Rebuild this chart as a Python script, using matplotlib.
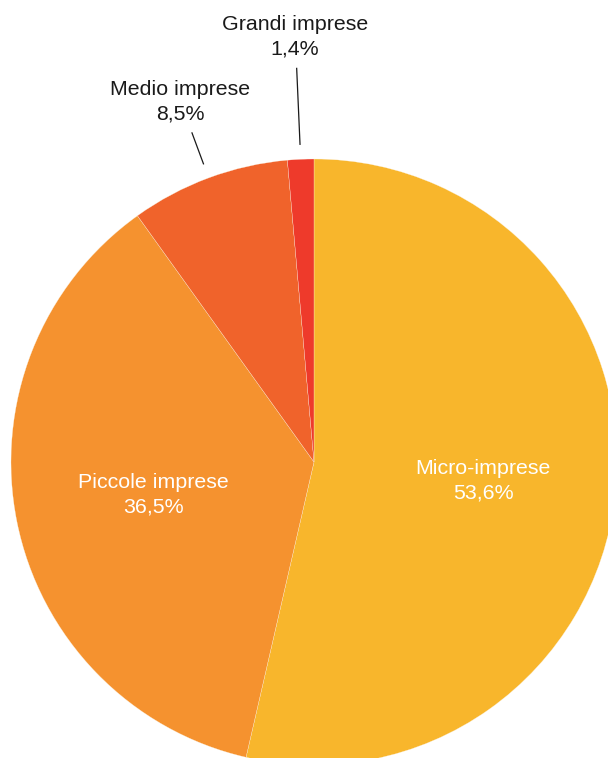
import numpy as np
import matplotlib.pyplot as plt

# quote per classe dimensionale (%)
labels = ['Micro-imprese', 'Piccole imprese', 'Medio imprese', 'Grandi imprese']
shares = [53.6, 36.5, 8.5, 1.4]
colors = ['#F8B62C', '#F5922F', '#F0632B', '#EE3A2B']

W, H = 608, 758
fig = plt.figure(figsize=(W / 100, H / 100), dpi=100)
ax = fig.add_axes([0, 0, 1, 1])

cx, cy, R = 314, H - 462, 303
wedges, _ = ax.pie(shares, colors=colors, startangle=90, counterclock=False,
                   center=(cx, cy), radius=R,
                   wedgeprops=dict(edgecolor='#fdf3e0', linewidth=0.2))
ax.set_xlim(0, W)
ax.set_ylim(0, H)
ax.set_aspect('equal')
ax.axis('off')

def fmt(v):
    return f'{v:.1f}%'.replace('.', ',')

font = dict(family='Liberation Sans', fontsize=15.4, ha='center', va='center',
            linespacing=1.38)

# etichette interne
ax.text(483, H - 481, f'{labels[0]}\n{fmt(shares[0])}', color='white', **font)
ax.text(153, H - 495, f'{labels[1]}\n{fmt(shares[1])}', color='white', **font)

# etichette esterne con linea guida lungo l'angolo medio della fetta
outer = [(2, (180, H - 102), 351), (3, (295, H - 37), 394)]
for i, pos, r_end in outer:
    w = wedges[i]
    mid = np.deg2rad((w.theta1 + w.theta2) / 2)
    r0 = R + 15
    ax.plot([cx + r0 * np.cos(mid), cx + r_end * np.cos(mid)],
            [cy + r0 * np.sin(mid), cy + r_end * np.sin(mid)],
            color='#1a1a1a', lw=0.9)
    ax.text(pos[0], pos[1], f'{labels[i]}\n{fmt(shares[i])}', color='#1a1a1a', **font)

fig.savefig('out.png', dpi=100)
